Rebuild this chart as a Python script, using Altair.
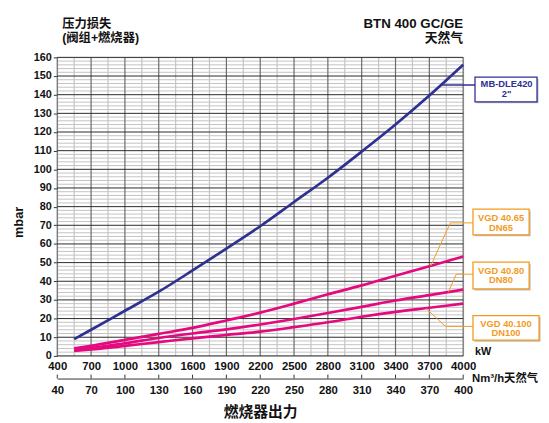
import altair as alt
import pandas as pd

# ---------------- data ----------------
kw = [550, 700, 1000, 1300, 1600, 1900, 2200, 2500, 2800, 3100, 3400, 3700, 4000]
series_names = ['MB-DLE420 2"', "VGD 40.65 DN65", "VGD 40.80 DN80", "VGD 40.100 DN100"]
mb_dle420 = [9.0, 14.0, 24.2, 34.4, 45.8, 57.5, 69.5, 82.5, 95.5, 109.5, 124.0, 139.5, 156.0]
vgd_65 = [4.0, 5.4, 8.6, 11.8, 15.0, 19.0, 23.2, 28.0, 33.0, 37.8, 43.0, 48.0, 53.3]
vgd_80 = [3.2, 4.2, 6.8, 9.6, 12.0, 14.2, 16.8, 19.8, 23.0, 26.3, 29.7, 32.6, 35.5]
vgd_100 = [2.6, 3.4, 5.4, 7.4, 9.4, 11.2, 13.0, 15.4, 18.0, 21.0, 23.6, 25.8, 28.0]
series_colors = ["#2E3092", "#E5097F", "#E5097F", "#E5097F"]

kw_ticks = list(range(400, 4001, 300))
nm3h_ticks = list(range(40, 401, 30))
mbar_ticks = list(range(0, 161, 10))

box_line1 = ["MB-DLE420", "VGD 40.65", "VGD 40.80", "VGD 40.100"]
box_line2 = ['2"', "DN65", "DN80", "DN100"]

FONT = "'Liberation Sans', Arial, 'Noto Sans CJK SC', sans-serif"
NAVY = "#2E3092"
ORANGE = "#F39A1E"

rows = []
for name, col, vals in zip(series_names, series_colors, [mb_dle420, vgd_65, vgd_80, vgd_100]):
    for k, v in zip(kw, vals):
        rows.append({"series": name, "kw": k, "mbar": v, "color": col})
df = pd.DataFrame(rows)

xs = alt.Scale(domain=[400, 4000], nice=False, zero=False)
ys = alt.Scale(domain=[0, 160], nice=False, zero=False)

x_axis = alt.Axis(values=kw_ticks, format="d", title=None, grid=False, domain=False, ticks=False,
                  labelPadding=5, labelFont=FONT, labelFontSize=11.5, labelFontWeight="bold",
                  labelColor="#111", labelFlush=False)
y_axis = alt.Axis(values=mbar_ticks, format="d", title="mbar", grid=False, domain=False, ticks=True,
                  tickSize=4, tickColor="#333", labelPadding=2, labelFont=FONT,
                  labelFontSize=11, labelFontWeight="bold", labelColor="#111",
                  titleFont=FONT, titleFontSize=13, titleFontWeight="bold", titleColor="#111",
                  titleX=-39, titleY=167, titleAlign="center", titleBaseline="middle")


def X(field):
    return alt.X(field, scale=xs, axis=x_axis)


def Y(field):
    return alt.Y(field, scale=ys, axis=y_axis)


# ---------------- grid ----------------
hgrid = pd.DataFrame({"y": list(range(0, 161, 2))})
hgrid["major"] = hgrid["y"] % 10 == 0
vgrid = pd.DataFrame({"x": list(range(400, 4001, 150))})
vgrid["major"] = (vgrid["x"] - 400) % 300 == 0

h_minor = alt.Chart(hgrid[~hgrid["major"]]).mark_rule(color="#b4b4b4", strokeWidth=0.8).encode(
    y=Y("y:Q"), x=alt.value(0), x2=alt.value(412))
v_minor = alt.Chart(vgrid[~vgrid["major"]]).mark_rule(color="#c4c4c4", strokeWidth=1.2).encode(
    x=X("x:Q"), y=alt.value(0), y2=alt.value(303))
v_major = alt.Chart(vgrid[vgrid["major"]]).mark_rule(color="#6a6a6a", strokeWidth=1.2).encode(
    x=X("x:Q"), y=alt.value(0), y2=alt.value(303))
h_major = alt.Chart(hgrid[hgrid["major"]]).mark_rule(color="#2a2a2a", strokeWidth=1).encode(
    y=Y("y:Q"), x=alt.value(0), x2=alt.value(412))

lines = alt.Chart(df).mark_line(strokeWidth=2.7, interpolate="monotone").encode(
    x=X("kw:Q"), y=Y("mbar:Q"),
    color=alt.Color("color:N", scale=None),
    detail="series:N")

# ---------------- label boxes & leaders ----------------
boxes = pd.DataFrame({
    "x1": [4105, 4087, 4087, 4087], "x2": [4655, 4585, 4585, 4673],
    "y1": [136.2, 64.9, 35.9, 8.4], "y2": [149.4, 78.7, 50.2, 21.6],
    "xc": [4385, 4336, 4336, 4380],
    "t1y": [145.5, 74.0, 45.4, 17.0], "t2y": [140.2, 68.6, 40.7, 12.1],
    "line1": box_line1, "line2": box_line2,
    "color": [NAVY, ORANGE, ORANGE, ORANGE],
})
shadow = alt.Chart(boxes).mark_rect(color="#bbbbbb", xOffset=1.5, yOffset=1.5, x2Offset=1.5, y2Offset=1.5).encode(
    x=X("x1:Q"), x2="x2:Q", y=Y("y1:Q"), y2="y2:Q")
rects = alt.Chart(boxes).mark_rect(fill="white", strokeWidth=1.3).encode(
    x=X("x1:Q"), x2="x2:Q", y=Y("y1:Q"), y2="y2:Q",
    stroke=alt.Color("color:N", scale=None))
t1 = alt.Chart(boxes).mark_text(font=FONT, fontSize=9.5, fontWeight="bold", baseline="middle").encode(
    x=X("xc:Q"), y=Y("t1y:Q"), text="line1:N", color=alt.Color("color:N", scale=None))
t2 = alt.Chart(boxes).mark_text(font=FONT, fontSize=9.5, fontWeight="bold", baseline="middle").encode(
    x=X("xc:Q"), y=Y("t2y:Q"), text="line2:N", color=alt.Color("color:N", scale=None))

leaders = pd.DataFrame({
    "xa": [3799, 3712, 3886, 3869, 3939, 3668, 3843],
    "ya": [145.2, 48.2, 71.3, 34.2, 43.8, 25.6, 15.8],
    "xb": [4105, 3886, 4087, 3939, 4087, 3843, 4087],
    "yb": [145.2, 71.3, 71.3, 43.8, 43.8, 15.8, 15.8],
    "color": [NAVY, ORANGE, ORANGE, ORANGE, ORANGE, ORANGE, ORANGE],
    "w": [1.5, 1, 1, 1, 1, 1, 1],
})
leader_rules = alt.Chart(leaders).mark_rule().encode(
    x=X("xa:Q"), x2="xb:Q", y=Y("ya:Q"), y2="yb:Q",
    color=alt.Color("color:N", scale=None),
    strokeWidth=alt.StrokeWidth("w:Q", scale=None))

# ---------------- static texts ----------------
def txt(s, x, y, size, align="left", color="#111"):
    return alt.Chart(pd.DataFrame({"t": [s]})).mark_text(
        font=FONT, fontSize=size, fontWeight="bold", align=align, baseline="middle", color=color
    ).encode(text="t:N", x=alt.value(x), y=alt.value(y))

texts = [
    txt("压力损失", 5, -34, 12.5),
    txt("(阀组+燃烧器)", 5, -20, 12.5),
    txt("BTN 400 GC/GE", 412, -34, 13.5, align="right"),
    txt("天然气", 412, -20, 13, align="right"),
    txt("kW", 424, 299, 11),
    txt("Nm³/h天然气", 421, 327, 11.5),
]

main = alt.layer(h_minor, v_minor, v_major, h_major, lines, leader_rules, shadow, rects, t1, t2, *texts)

# ---------------- secondary axis (Nm3/h) ----------------
nm_df = pd.DataFrame({"nm": nm3h_ticks})
nm_axis = alt.Axis(orient="bottom", offset=23, values=nm3h_ticks, format="d", grid=False, domain=True,
                   domainColor="#333", domainWidth=1, ticks=False, labelPadding=6,
                   labelFont=FONT, labelFontSize=11.5, labelFontWeight="bold", labelColor="#111",
                   labelFlush=False,
                   title="燃烧器出力", titleFont=FONT, titleFontSize=15, titleFontWeight="bold",
                   titleColor="#111", titlePadding=9)
secondary = alt.Chart(nm_df).mark_rule(color="#333", strokeWidth=1).encode(
    x=alt.X("nm:Q", scale=alt.Scale(domain=[40, 400], nice=False, zero=False), axis=nm_axis),
    y=alt.value(326), y2=alt.value(322))

chart = alt.layer(main, secondary).resolve_scale(x="independent").properties(
    width=412, height=303,
    autosize=alt.AutoSizeParams(type="none"),
    padding={"left": 50, "top": 47, "right": 79, "bottom": 65},
).configure_view(stroke="#2a2a2a", strokeWidth=1).configure(background="white")

chart.save("out.html", embed_options={"renderer": "svg", "actions": False})
